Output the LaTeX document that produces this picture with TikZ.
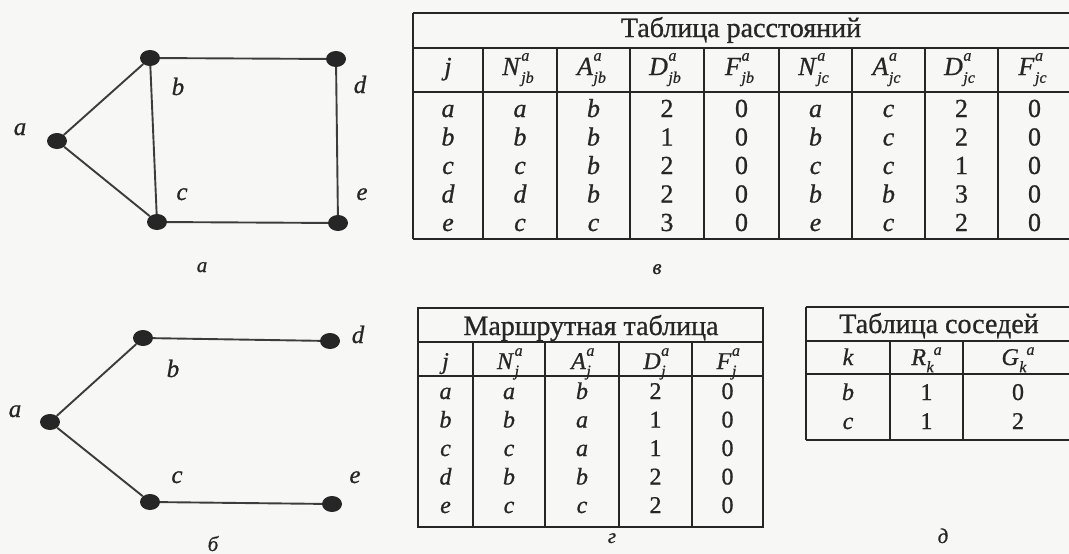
\documentclass[tikz,border=0pt]{standalone}
\usepackage{fontspec}
\setmainfont{Liberation Serif}[FakeBold=0.8,ItalicFeatures={FakeBold=0.8}]
\usetikzlibrary{shapes.geometric}
\definecolor{ink}{RGB}{38,38,38}
\definecolor{edgeink}{RGB}{60,60,60}
\definecolor{paper}{RGB}{247,247,245}
\newcommand\I{\itshape}
\newcommand\ssz{\fontsize{16}{16}\selectfont\itshape}
\newcommand\hd[3]{\textit{#1}\kern0.5pt\rlap{\raisebox{0.55em}{\ssz #2}}\raisebox{-0.3em}{\ssz #3}}
\newcommand\hdr[3]{\textit{#1}\kern0.5pt\raisebox{-0.3em}{\ssz #3}\raisebox{0.42em}{\ssz #2}}
\begin{document}
\begin{tikzpicture}[x=1pt,y=-1pt,
  vtx/.style={ellipse,fill=ink,minimum width=20pt,minimum height=16pt,inner sep=0pt},
  link/.style={draw=edgeink,line width=1.9pt},
  lbl/.style={font=\fontsize{25}{25}\selectfont\itshape,text=ink,inner sep=0pt,anchor=base},
  capt/.style={font=\fontsize{21}{21}\selectfont\itshape,text=ink,inner sep=0pt,anchor=base},
  rule/.style={draw=ink,line width=2pt},
  cell/.style={font=\fontsize{26}{26}\selectfont,text=ink,inner sep=0pt,anchor=base},
  scell/.style={font=\fontsize{24}{24}\selectfont,text=ink,inner sep=0pt,anchor=base},
  ttl/.style={font=\fontsize{28}{28}\selectfont,text=ink,inner sep=0pt,anchor=base}]
\fill[paper] (0,0) rectangle (1069,554);
\useasboundingbox (0,0) rectangle (1069,554);
\clip (0,0) rectangle (1069,554);

% ---------- graph a ----------
\node[vtx] (ga) at (57,141) {};
\node[vtx] (gb) at (150,58) {};
\node[vtx] (gd) at (336,59) {};
\node[vtx] (gc) at (157,222) {};
\node[vtx] (ge) at (338,223) {};
\draw[link] (ga) -- (gb);
\draw[link] (ga) -- (gc);
\draw[link] (gb) -- (gc);
\draw[link] (gb) -- (gd);
\draw[link] (gd) -- (ge);
\draw[link] (gc) -- (ge);
\node[lbl] (la) at (20,135) {a};
\node[lbl] (lb) at (178,95) {b};
\node[lbl] (ld) at (360,93) {d};
\node[lbl] (lc) at (182,200) {c};
\node[lbl] (le) at (362,200) {e};
\node[capt] (capA) at (202,272) {а};

% ---------- graph b ----------
\node[vtx] (ha) at (50,422) {};
\node[vtx] (hb) at (143,338) {};
\node[vtx] (hd) at (330,341) {};
\node[vtx] (hc) at (150,502) {};
\node[vtx] (he) at (332,504) {};
\draw[link] (ha) -- (hb);
\draw[link] (ha) -- (hc);
\draw[link] (hb) -- (hd);
\draw[link] (hc) -- (he);
\node[lbl] (ma) at (15,417) {a};
\node[lbl] (mb) at (173,377) {b};
\node[lbl] (md) at (358,343) {d};
\node[lbl] (mc) at (177,483) {c};
\node[lbl] (me) at (355,483) {e};
\node[capt] (capB) at (213,551) {б};

% ---------- distance table ----------
\draw[rule] (413,13) -- (1075,13);
\draw[rule] (413,48) -- (1075,48);
\draw[rule] (413,92) -- (1075,92);
\draw[rule] (413,239) -- (1075,239);
\draw[rule] (413,13) -- (413,239);
\foreach \x in {483,557,630,704,779,852,925,998} \draw[rule] (\x,48) -- (\x,239);
\node[ttl] (T1) at (741,37) {Таблица расстояний};
\node[cell] (BH1) at (448,75) {\I j};
\node[cell] (BH2) at (518,75) {\hd{N}{a}{jb}};
\node[cell] (BH3) at (591.5,75) {\hd{A}{a}{jb}};
\node[cell] (BH4) at (665,75) {\hd{D}{a}{jb}};
\node[cell] (BH5) at (739.5,75) {\hd{F}{a}{jb}};
\node[cell] (BH6) at (813.5,75) {\hd{N}{a}{jc}};
\node[cell] (BH7) at (886.5,75) {\hd{A}{a}{jc}};
\node[cell] (BH8) at (959.5,75) {\hd{D}{a}{jc}};
\node[cell] (BH9) at (1032.5,75) {\hd{F}{a}{jc}};
\foreach \r [count=\i] in {
  {\I a,\I a,\I b,2,0,\I a,\I c,2,0},
  {\I b,\I b,\I b,1,0,\I b,\I c,2,0},
  {\I c,\I c,\I b,2,0,\I c,\I c,1,0},
  {\I d,\I d,\I b,2,0,\I b,\I b,3,0},
  {\I e,\I c,\I c,3,0,\I e,\I c,2,0}} {
  \foreach \v [count=\j] in \r {
    \pgfmathsetmacro\cx{{448,520,593.5,667,741.5,815.5,888.5,961.5,1034.5}[\j-1]}
    \node[cell] (B-\i-\j) at (\cx,{117+28.5*(\i-1)}) {\v};
  }
}
\node[capt] (capV) at (657,274) {в};

% ---------- routing table ----------
\draw[rule] (418,308) rectangle (763,527);
\draw[rule] (418,342) -- (763,342);
\draw[rule] (418,376) -- (763,376);
\foreach \x in {473,545,619,692} \draw[rule] (\x,342) -- (\x,527);
\node[ttl] (T2) at (591,335) {Маршрутная таблица};
\node[scell] (RH1) at (445.5,369) {\I j};
\node[scell] (RH2) at (508,369) {\hd{N}{a}{j}};
\node[scell] (RH3) at (581,369) {\hd{A}{a}{j}};
\node[scell] (RH4) at (654.5,369) {\hd{D}{a}{j}};
\node[scell] (RH5) at (726.5,369) {\hd{F}{a}{j}};
\foreach \r [count=\i] in {
  {\I a,\I a,\I b,2,0},
  {\I b,\I b,\I a,1,0},
  {\I c,\I c,\I a,1,0},
  {\I d,\I b,\I b,2,0},
  {\I e,\I c,\I c,2,0}} {
  \foreach \v [count=\j] in \r {
    \pgfmathsetmacro\cx{{445.5,509,582,655.5,727.5}[\j-1]}
    \node[scell] (R-\i-\j) at (\cx,{399+28.5*(\i-1)}) {\v};
  }
}
\node[capt] (capG) at (612,543) {г};

% ---------- neighbour table ----------
\draw[rule] (806,307) -- (1075,307);
\draw[rule] (806,341) -- (1075,341);
\draw[rule] (806,374) -- (1075,374);
\draw[rule] (806,440) -- (1075,440);
\draw[rule] (806,307) -- (806,440);
\foreach \x in {890,963} \draw[rule] (\x,341) -- (\x,440);
\node[ttl] (T3) at (939,333) {Таблица соседей};
\node[scell] (NH1) at (848,365) {\I k};
\node[scell] (NH2) at (926.5,365) {\hdr{R}{a}{k}};
\node[scell] (NH3) at (1018,365) {\hdr{G}{a}{k}};
\foreach \r [count=\i] in {{\I b,1,0},{\I c,1,2}} {
  \foreach \v [count=\j] in \r {
    \pgfmathsetmacro\cx{{848,926.5,1018}[\j-1]}
    \node[scell] (N-\i-\j) at (\cx,{400+29*(\i-1)}) {\v};
  }
}
\node[capt] (capD) at (943,543) {д};
\end{tikzpicture}
\end{document}
